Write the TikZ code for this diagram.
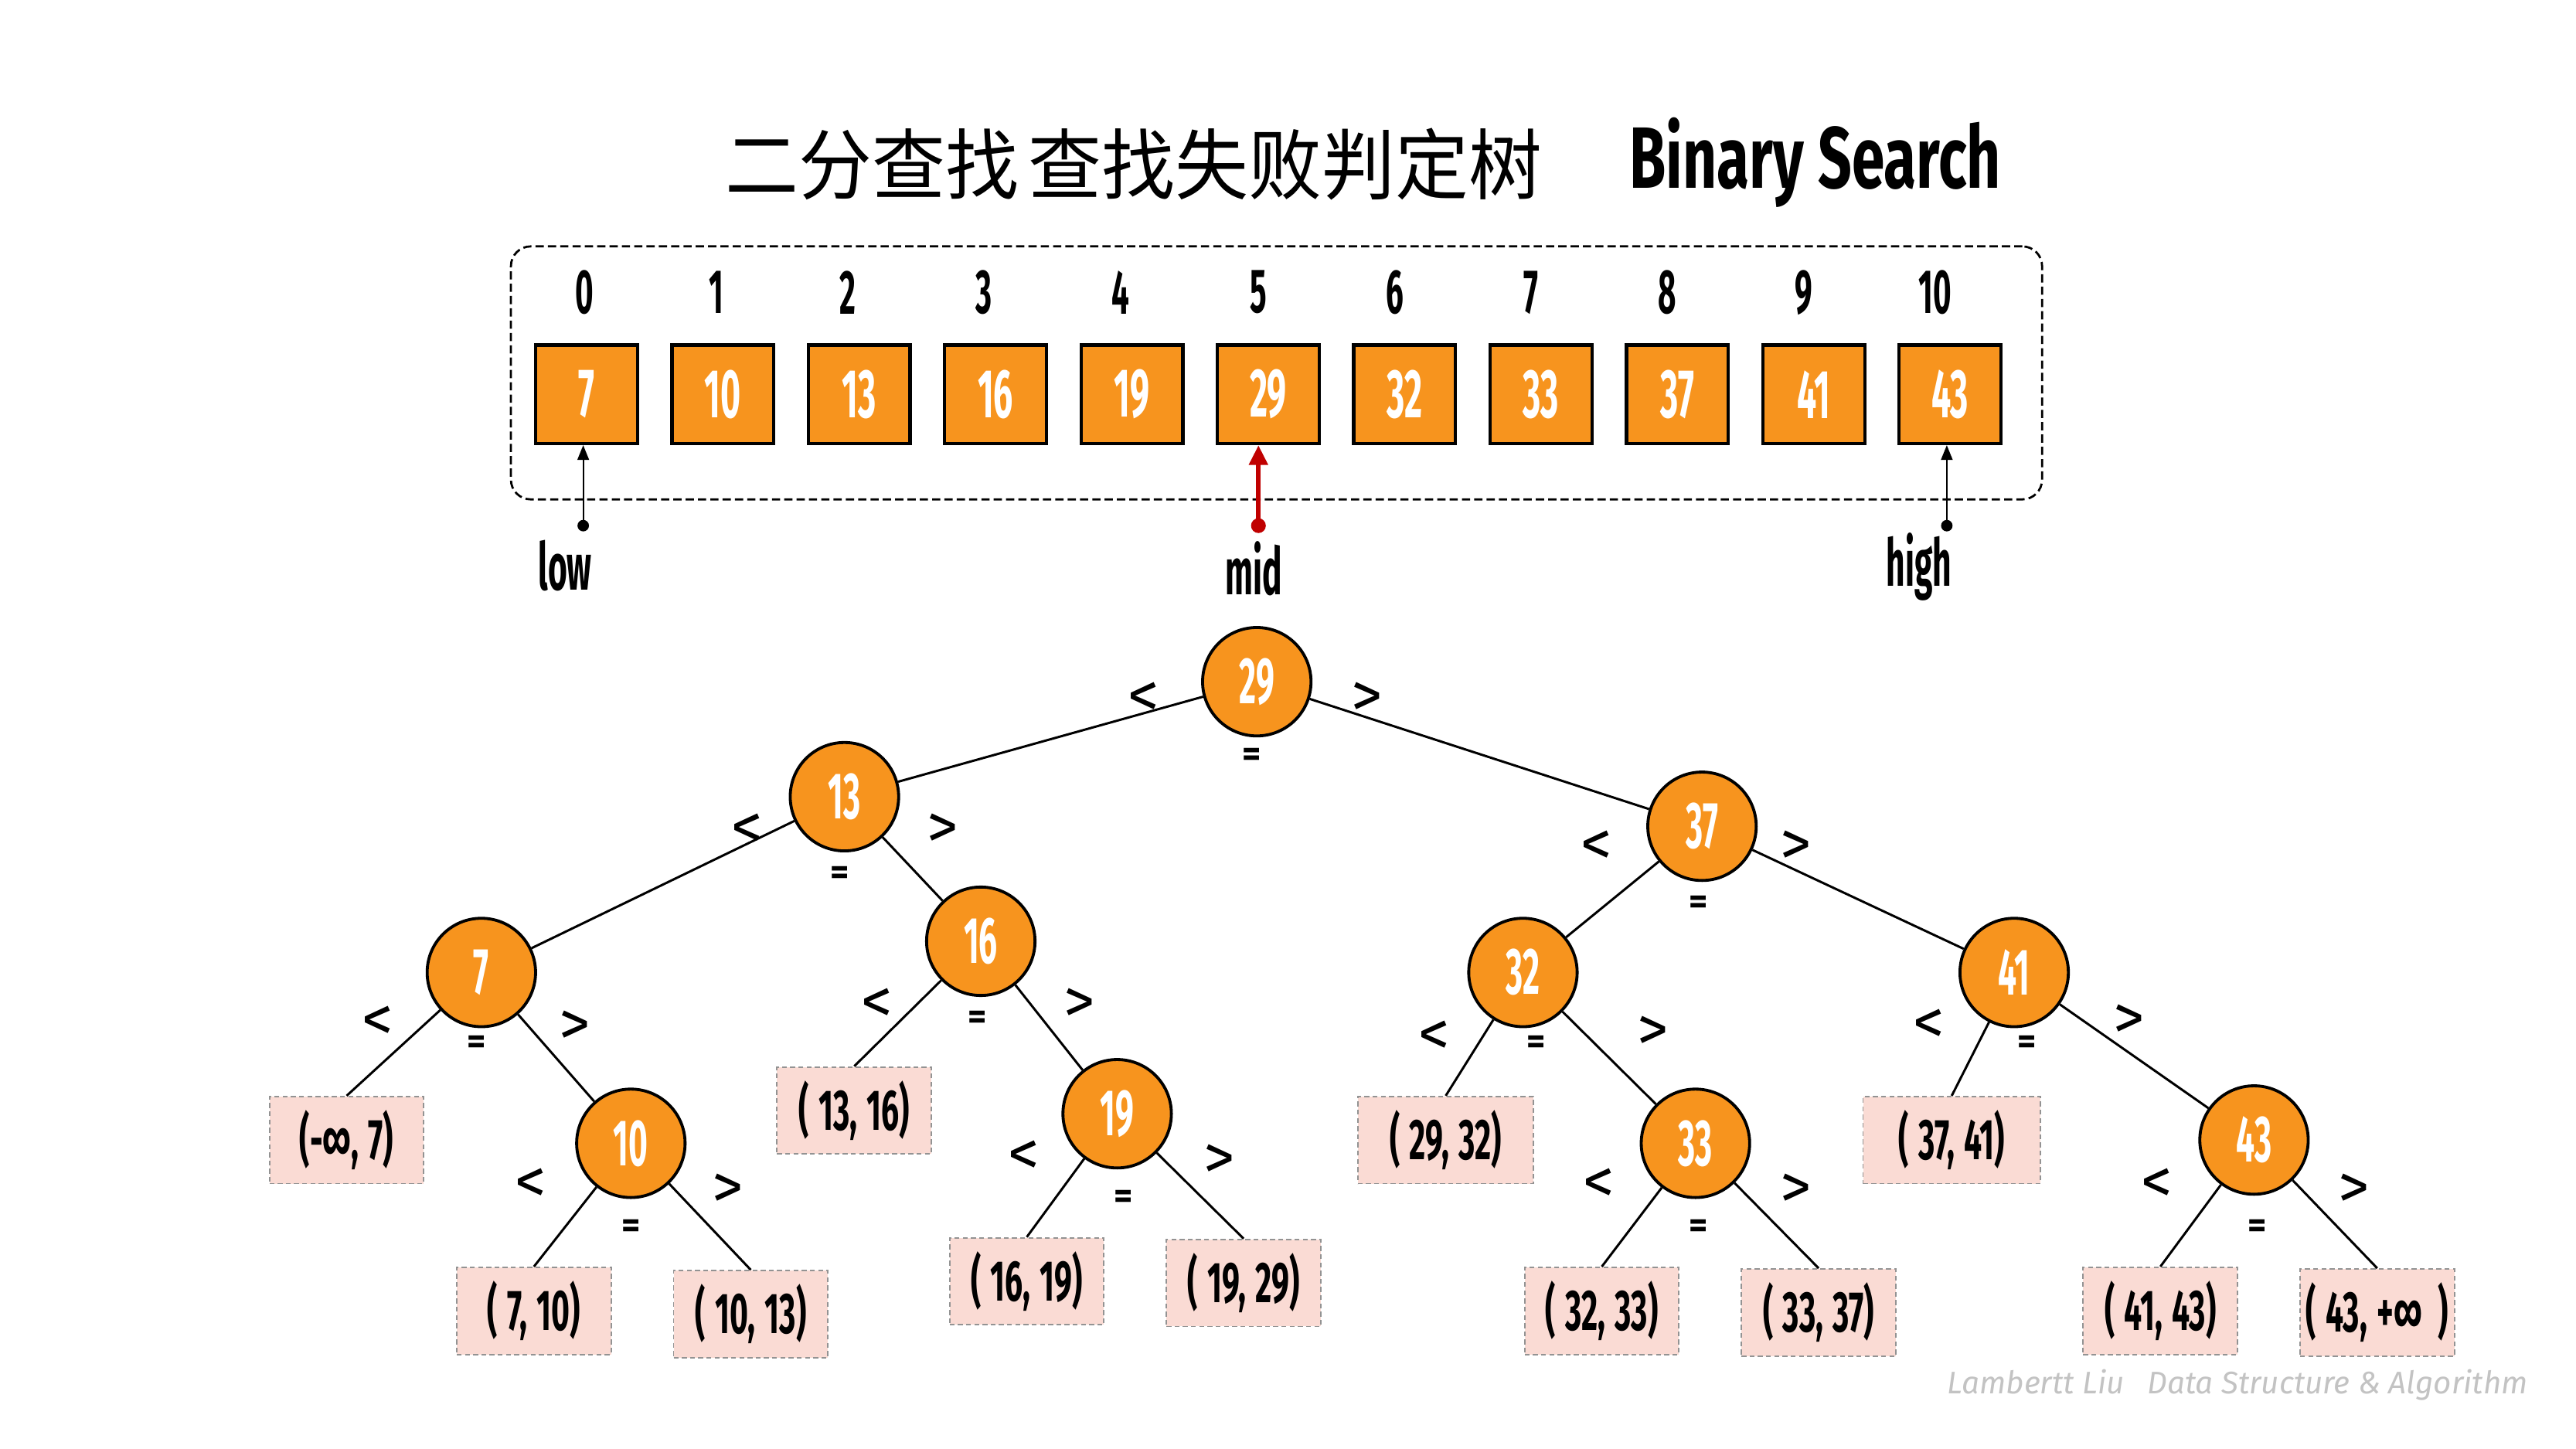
\documentclass[tikz,border=0pt]{standalone}
\usepackage{fontspec}
\setmainfont{Fira Sans}
\newfontfamily\cond[FakeStretch=0.5]{Fira Sans}
\newfontfamily\condw[FakeStretch=0.68]{Fira Sans}
\newfontfamily\leafont[FakeStretch=0.55]{Fira Sans}
\newfontfamily\cjk[FakeStretch=0.95]{Noto Sans CJK SC}
\usetikzlibrary{arrows.meta,calc}
\definecolor{orangeF}{RGB}{247,148,30}
\definecolor{pinkF}{RGB}{250,219,212}
\definecolor{redA}{RGB}{192,0,0}
\definecolor{wmgray}{RGB}{195,195,195}
\tikzset{
  cell/.style={draw=black, line width=2pt, fill=orangeF, minimum width=62, minimum height=60, inner sep=0pt, text=white, font=\cond\bfseries\fontsize{42}{42}\selectfont},
  idx/.style={inner sep=0pt, font=\cond\bfseries\fontsize{38}{38}\selectfont},
  tnode/.style={circle, draw=black, line width=1.8pt, fill=orangeF, minimum size=66, inner sep=0pt, text=white, font=\cond\bfseries\fontsize{40}{40}\selectfont},
  leaf/.style={draw=gray!85, line width=0.9pt, dash pattern=on 3pt off 2pt, fill=pinkF, minimum width=94, minimum height=53, inner sep=0pt, font=\leafont\bfseries\fontsize{35}{35}\selectfont},
  cmp/.style={inner sep=0pt, font=\fontsize{38}{38}\selectfont},
  eqs/.style={inner sep=0pt, font=\bfseries\fontsize{22}{22}\selectfont},
  edge/.style={line width=1.4pt},
  ptr/.style={inner sep=0pt, anchor=base, font=\cond\bfseries\fontsize{40}{40}\selectfont},
}
\begin{document}
\begin{tikzpicture}[x=1pt,y=-1pt]
\fill[white] (0,0) rectangle (1568,882);
\useasboundingbox (0,0) rectangle (1568,882);

% title
\node[inner sep=0pt, font=\cjk\fontsize{47}{47}\selectfont] (tcn) at (690,100) {二分查找\hspace{6pt}查找失败判定树};
\node[inner sep=0pt, font=\condw\bfseries\fontsize{53}{53}\selectfont] (ten) at (1105,99) {Binary Search};

% frame
\node[draw=black, line width=1.3pt, dash pattern=on 5pt off 2.5pt, rounded corners=12pt, minimum width=932, minimum height=154, inner sep=0pt] (frame) at (777,227) {};

% array
\foreach \i/\v/\xx/\ix in {0/7/357/356, 1/10/440/436, 2/13/523/516, 3/16/606/599, 4/19/689/682, 5/29/772/766, 6/32/855/849, 7/33/938/932, 8/37/1021/1015, 9/41/1104/1098, 10/43/1187/1178}{
  \node[cell] (c\i) at (\xx,240) {\v};
  \node[idx] (i\i) at (\ix,178) {\i};
}

% pointers
\coordinate (lowdot) at (355,320);
\coordinate (middot) at (766,320);
\coordinate (highdot) at (1185,320);
\fill (lowdot) circle (3.5);
\fill (highdot) circle (3.5);
\fill[redA] (middot) circle (4.5);
\draw[line width=1pt, -{Triangle[length=9pt,width=7pt]}] (lowdot) -- (lowdot |- c0.south);
\draw[line width=1pt, -{Triangle[length=9pt,width=7pt]}] (highdot) -- (highdot |- c10.south);
\draw[redA, line width=3pt, -{Triangle[length=12pt,width=11pt]}] (middot) -- (middot |- c5.south);
\node[ptr] (lowlbl) at (344,359) {low};
\node[ptr] (midlbl) at (763,362) {mid};
\node[ptr] (highlbl) at (1168,357) {high};

% tree nodes
\node[tnode] (n29) at (765,415) {29};
\node[tnode] (n13) at (514,485) {13};
\node[tnode] (n37) at (1036,503) {37};
\node[tnode] (n7) at (293,592) {7};
\node[tnode] (n16) at (597,573) {16};
\node[tnode] (n32) at (927,592) {32};
\node[tnode] (n41) at (1226,592) {41};
\node[tnode] (n10) at (384,696) {10};
\node[tnode] (n19) at (680,678) {19};
\node[tnode] (n33) at (1032,696) {33};
\node[tnode] (n43) at (1372,694) {43};

% leaves
\node[leaf] (l1) at (211,694) {(-∞,\,7)};
\node[leaf] (l2) at (325,798) {(\,7,\,10)};
\node[leaf] (l3) at (457,800) {(\,10,\,13)};
\node[leaf] (l4) at (520,676) {(\,13,\,16)};
\node[leaf] (l5) at (625,780) {(\,16,\,19)};
\node[leaf] (l6) at (757,781) {(\,19,\,29)};
\node[leaf, minimum width=107] (l7) at (880,694) {(\,29,\,32)};
\node[leaf] (l8) at (975,798) {(\,32,\,33)};
\node[leaf] (l9) at (1107,799) {(\,33,\,37)};
\node[leaf, minimum width=108] (l10) at (1188,694) {(\,37,\,41)};
\node[leaf] (l11) at (1315,798) {(\,41,\,43)};
\node[leaf] (l12) at (1447,799) {(\,43,\,+∞\;)};

% edges
\foreach \a/\b in {n29/n13, n29/n37, n13/n7, n13/n16, n7/n10, n16/n19, n37/n32, n37/n41, n32/n33, n41/n43}
  \draw[edge] (\a) -- (\b);
\foreach \a/\b in {n7/l1, n10/l2, n10/l3, n16/l4, n19/l5, n19/l6, n32/l7, n33/l8, n33/l9, n41/l10, n43/l11, n43/l12}
  \draw[edge] (\a) -- (\b.north);

% comparison marks
\foreach \n/\lx/\ly/\rx/\ry/\ex/\ey in {29/-69/11/67/11/-3/46, 13/-59/21/60/21/-3/48, 37/-64/13/57/13/-2/48, 7/-63/31/57/34/-3/44, 16/-63/39/60/39/-2/48, 32/-54/40/79/37/8/44, 41/-52/33/70/30/8/44, 10/-61/26/59/29/0/52, 19/-57/27/62/29/4/52, 33/-59/26/61/29/2/52, 43/-59/28/61/31/2/54}{
  \node[cmp] (lt\n) at ($(n\n)+(\lx,\ly)$) {<};
  \node[cmp] (gt\n) at ($(n\n)+(\rx,\ry)$) {>};
  \node[eqs] (eq\n) at ($(n\n)+(\ex,\ey)$) {=};
}

% watermark
\node[inner sep=0pt, text=wmgray, font=\itshape\fontsize{19}{19}\selectfont] (wm) at (1362,843) {Lambertt Liu\hspace{14pt}Data Structure \& Algorithm};
\end{tikzpicture}
\end{document}
